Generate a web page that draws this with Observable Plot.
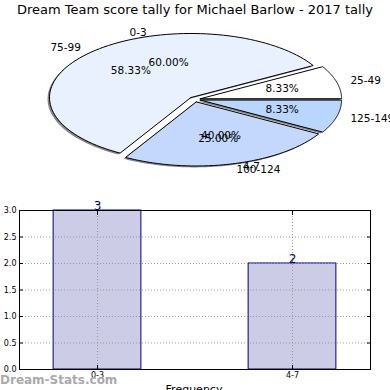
<!DOCTYPE html>
<html><head><meta charset="utf-8">
<script src="https://cdn.jsdelivr.net/npm/d3@7"></script>
<script src="https://cdn.jsdelivr.net/npm/@observablehq/plot@0.6"></script>
<style>
body{margin:0;background:#fff;font-family:"DejaVu Sans",sans-serif;}
#wrap{position:relative;width:390px;height:390px;overflow:hidden;background:#fff;}
#title{position:absolute;top:2px;left:0;width:390px;text-align:center;font-size:13px;line-height:16px;color:#000;}
#pie{position:absolute;top:0;left:0;}
#bar{position:absolute;top:195px;left:0;}
#wm{position:absolute;left:0;top:373px;font-size:12px;font-weight:bold;color:#aaa;}
#xl{position:absolute;left:0;width:388px;top:383px;text-align:center;font-size:11px;}
</style></head><body>
<div id="wrap">
  <div id="pie"></div>
  <div id="bar"></div>
  <div id="title">Dream Team score tally for Michael Barlow - 2017 tally</div>
  <div id="wm">Dream-Stats.com</div>
  <div id="xl">Frequency</div>
</div>
<script>
// ---- data ----
const pieALabels = ["0-3", "4-7"];
const pieAPcts = [60.00, 40.00];
const pieBLabels = ["25-49", "75-99", "100-124", "125-149"];
const pieBPcts = [8.33, 58.33, 25.00, 8.33];
const pieBExplode = [0.04, 0.04, 0.04, 0.04];
const pieBColors = ["#ffffff", "#eaf1fe", "#c4d8fe", "#b9d7fe"];

const barCats = ["0-3", "4-7"];
const barCounts = [3, 2];
const yTicks = [0, 0.5, 1, 1.5, 2, 2.5, 3];

// ---- pie geometry (data units, radius 1) ----
function slices(labels, pcts, explode) {
  const total = d3.sum(pcts);
  let cum = 0;
  return labels.map((lab, i) => {
    const a0 = cum / total * 2 * Math.PI;
    cum += pcts[i];
    const a1 = cum / total * 2 * Math.PI;
    const mid = (a0 + a1) / 2;
    const e = explode ? explode[i] : 0;
    const ox = e * Math.cos(mid), oy = e * Math.sin(mid);
    return {label: lab, pct: pcts[i], a0, a1, mid, ox, oy, i};
  });
}
function polygon(s, dx = 0, dy = 0) {
  const pts = [{k: s.label, x: s.ox + dx, y: s.oy + dy}];
  const n = 90;
  for (let j = 0; j <= n; j++) {
    const a = s.a0 + (s.a1 - s.a0) * j / n;
    pts.push({k: s.label, x: s.ox + dx + Math.cos(a), y: s.oy + dy + Math.sin(a)});
  }
  pts.push({k: s.label, x: s.ox + dx, y: s.oy + dy});
  return pts;
}
const sA = slices(pieALabels, pieAPcts, null);
const sB = slices(pieBLabels, pieBPcts, pieBExplode);
const polys = sB.flatMap(s => polygon(s));
const shadows = sB.flatMap(s => polygon(s, -0.014, -0.022));
const allS = sA.concat(sB);
const labelPts = allS.map(s => ({
  text: s.label,
  x: s.ox + 1.1 * Math.cos(s.mid),
  y: s.oy + 1.1 * Math.sin(s.mid),
  right: Math.cos(s.mid) > 0
}));
const pctPts = allS.map(s => ({
  text: s.pct.toFixed(2) + "%",
  x: s.ox + 0.6 * Math.cos(s.mid),
  y: s.oy + 0.6 * Math.sin(s.mid)
}));

const pie = Plot.plot({
  width: 390, height: 190,
  x: {domain: [-1, 1], range: [53, 335.6], axis: null},
  y: {domain: [-1, 1], range: [163, 34.8], axis: null},
  color: {domain: pieBLabels, range: pieBColors},
  style: {fontFamily: "DejaVu Sans, sans-serif", overflow: "visible"},
  marks: [
    Plot.line(shadows, {x: "x", y: "y", z: "k", fill: "#333", fillOpacity: 0.6, stroke: "none", curve: "linear"}),
    Plot.line(polys, {x: "x", y: "y", z: "k", fill: "k", stroke: "#000", strokeWidth: 1, curve: "linear"}),
    Plot.text(labelPts.filter(d => d.right), {x: "x", y: "y", text: "text", textAnchor: "start", fontSize: 10.5, fill: "#000"}),
    Plot.text(labelPts.filter(d => !d.right), {x: "x", y: "y", text: "text", textAnchor: "end", fontSize: 10.5, fill: "#000"}),
    Plot.text(pctPts, {x: "x", y: "y", text: "text", fontSize: 10.5, fill: "#000"})
  ]
});
document.getElementById("pie").appendChild(pie);

// ---- bar chart ----
const bars = barCats.map((c, i) => ({cat: c, i, count: barCounts[i]}));
const half = 0.225;
const bar = Plot.plot({
  width: 390, height: 195,
  marginLeft: 19, marginRight: 20, marginTop: 15, marginBottom: 21,
  x: {domain: [-0.4, 1.4]},
  y: {domain: [0, 3]},
  style: {fontFamily: "DejaVu Sans, sans-serif", overflow: "visible"},
  marks: [
    Plot.rectY(bars, {x1: d => d.i - half, x2: d => d.i + half, y: "count", fill: "#ccccE6", stroke: "#000080", strokeWidth: 1}),
    Plot.ruleY(yTicks.slice(1, -1), {stroke: "#999", strokeDasharray: "1,2"}),
    Plot.ruleX(bars, {x: "i", stroke: "#999", strokeDasharray: "1,2"}),
    Plot.text(bars, {x: "i", y: "count", text: d => String(d.count), lineAnchor: "bottom", dy: -1, fill: "#000080", fontSize: 12}),
    Plot.frame({stroke: "#000"}),
    Plot.axisY(yTicks, {tickSize: -4, tickPadding: 7, tickFormat: d => d.toFixed(1), fontSize: 8, label: null}),
    Plot.axisY(yTicks, {anchor: "right", tickSize: -4, tickFormat: () => "", label: null}),
    Plot.axisX(bars.map(d => d.i), {tickSize: -4, tickPadding: 7, tickFormat: i => barCats[i], fontSize: 8, label: null}),
    Plot.axisX(bars.map(d => d.i), {anchor: "top", tickSize: -4, tickFormat: () => "", label: null})
  ]
});
document.getElementById("bar").appendChild(bar);
</script>
</body></html>
